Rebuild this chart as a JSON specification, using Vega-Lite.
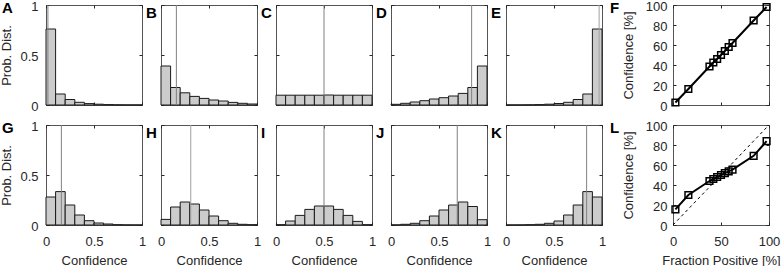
{
 "$schema": "https://vega.github.io/schema/vega-lite/v6.json",
 "autosize": {"type": "none"},
 "padding": {"left": 46, "top": 5, "right": 735, "bottom": 261},
 "background": "white",
 "datasets": {
  "hist": [
   {"panel":"A","b0":0,"b1":0.1,"p":0.76},{"panel":"A","b0":0.1,"b1":0.2,"p":0.11},{"panel":"A","b0":0.2,"b1":0.3,"p":0.055},{"panel":"A","b0":0.3,"b1":0.4,"p":0.027},{"panel":"A","b0":0.4,"b1":0.5,"p":0.014},{"panel":"A","b0":0.5,"b1":0.6,"p":0.008},{"panel":"A","b0":0.6,"b1":0.7,"p":0.004},{"panel":"A","b0":0.7,"b1":0.8,"p":0.002},{"panel":"A","b0":0.8,"b1":0.9,"p":0.001},{"panel":"A","b0":0.9,"b1":1,"p":0.001},
   {"panel":"B","b0":0,"b1":0.1,"p":0.39},{"panel":"B","b0":0.1,"b1":0.2,"p":0.175},{"panel":"B","b0":0.2,"b1":0.3,"p":0.122},{"panel":"B","b0":0.3,"b1":0.4,"p":0.086},{"panel":"B","b0":0.4,"b1":0.5,"p":0.066},{"panel":"B","b0":0.5,"b1":0.6,"p":0.05},{"panel":"B","b0":0.6,"b1":0.7,"p":0.04},{"panel":"B","b0":0.7,"b1":0.8,"p":0.026},{"panel":"B","b0":0.8,"b1":0.9,"p":0.017},{"panel":"B","b0":0.9,"b1":1,"p":0.01},
   {"panel":"C","b0":0,"b1":0.1,"p":0.098},{"panel":"C","b0":0.1,"b1":0.2,"p":0.098},{"panel":"C","b0":0.2,"b1":0.3,"p":0.098},{"panel":"C","b0":0.3,"b1":0.4,"p":0.098},{"panel":"C","b0":0.4,"b1":0.5,"p":0.098},{"panel":"C","b0":0.5,"b1":0.6,"p":0.1},{"panel":"C","b0":0.6,"b1":0.7,"p":0.098},{"panel":"C","b0":0.7,"b1":0.8,"p":0.098},{"panel":"C","b0":0.8,"b1":0.9,"p":0.098},{"panel":"C","b0":0.9,"b1":1,"p":0.098},
   {"panel":"D","b0":0,"b1":0.1,"p":0.007},{"panel":"D","b0":0.1,"b1":0.2,"p":0.017},{"panel":"D","b0":0.2,"b1":0.3,"p":0.03},{"panel":"D","b0":0.3,"b1":0.4,"p":0.043},{"panel":"D","b0":0.4,"b1":0.5,"p":0.06},{"panel":"D","b0":0.5,"b1":0.6,"p":0.073},{"panel":"D","b0":0.6,"b1":0.7,"p":0.09},{"panel":"D","b0":0.7,"b1":0.8,"p":0.116},{"panel":"D","b0":0.8,"b1":0.9,"p":0.175},{"panel":"D","b0":0.9,"b1":1,"p":0.39},
   {"panel":"E","b0":0,"b1":0.1,"p":0.001},{"panel":"E","b0":0.1,"b1":0.2,"p":0.001},{"panel":"E","b0":0.2,"b1":0.3,"p":0.002},{"panel":"E","b0":0.3,"b1":0.4,"p":0.004},{"panel":"E","b0":0.4,"b1":0.5,"p":0.008},{"panel":"E","b0":0.5,"b1":0.6,"p":0.015},{"panel":"E","b0":0.6,"b1":0.7,"p":0.027},{"panel":"E","b0":0.7,"b1":0.8,"p":0.055},{"panel":"E","b0":0.8,"b1":0.9,"p":0.11},{"panel":"E","b0":0.9,"b1":1,"p":0.76},
   {"panel":"G","b0":0,"b1":0.1,"p":0.28},{"panel":"G","b0":0.1,"b1":0.2,"p":0.334},{"panel":"G","b0":0.2,"b1":0.3,"p":0.2},{"panel":"G","b0":0.3,"b1":0.4,"p":0.1},{"panel":"G","b0":0.4,"b1":0.5,"p":0.043},{"panel":"G","b0":0.5,"b1":0.6,"p":0.02},{"panel":"G","b0":0.6,"b1":0.7,"p":0.01},{"panel":"G","b0":0.7,"b1":0.8,"p":0.003},{"panel":"G","b0":0.8,"b1":0.9,"p":0.001},{"panel":"G","b0":0.9,"b1":1,"p":0.0005},
   {"panel":"H","b0":0,"b1":0.1,"p":0.056},{"panel":"H","b0":0.1,"b1":0.2,"p":0.18},{"panel":"H","b0":0.2,"b1":0.3,"p":0.23},{"panel":"H","b0":0.3,"b1":0.4,"p":0.21},{"panel":"H","b0":0.4,"b1":0.5,"p":0.15},{"panel":"H","b0":0.5,"b1":0.6,"p":0.09},{"panel":"H","b0":0.6,"b1":0.7,"p":0.043},{"panel":"H","b0":0.7,"b1":0.8,"p":0.017},{"panel":"H","b0":0.8,"b1":0.9,"p":0.007},{"panel":"H","b0":0.9,"b1":1,"p":0.003},
   {"panel":"I","b0":0,"b1":0.1,"p":0.003},{"panel":"I","b0":0.1,"b1":0.2,"p":0.04},{"panel":"I","b0":0.2,"b1":0.3,"p":0.096},{"panel":"I","b0":0.3,"b1":0.4,"p":0.156},{"panel":"I","b0":0.4,"b1":0.5,"p":0.19},{"panel":"I","b0":0.5,"b1":0.6,"p":0.19},{"panel":"I","b0":0.6,"b1":0.7,"p":0.156},{"panel":"I","b0":0.7,"b1":0.8,"p":0.096},{"panel":"I","b0":0.8,"b1":0.9,"p":0.036},{"panel":"I","b0":0.9,"b1":1,"p":0.003},
   {"panel":"J","b0":0,"b1":0.1,"p":0.001},{"panel":"J","b0":0.1,"b1":0.2,"p":0.007},{"panel":"J","b0":0.2,"b1":0.3,"p":0.017},{"panel":"J","b0":0.3,"b1":0.4,"p":0.043},{"panel":"J","b0":0.4,"b1":0.5,"p":0.09},{"panel":"J","b0":0.5,"b1":0.6,"p":0.15},{"panel":"J","b0":0.6,"b1":0.7,"p":0.2},{"panel":"J","b0":0.7,"b1":0.8,"p":0.23},{"panel":"J","b0":0.8,"b1":0.9,"p":0.185},{"panel":"J","b0":0.9,"b1":1,"p":0.053},
   {"panel":"K","b0":0,"b1":0.1,"p":0.0005},{"panel":"K","b0":0.1,"b1":0.2,"p":0.001},{"panel":"K","b0":0.2,"b1":0.3,"p":0.003},{"panel":"K","b0":0.3,"b1":0.4,"p":0.007},{"panel":"K","b0":0.4,"b1":0.5,"p":0.017},{"panel":"K","b0":0.5,"b1":0.6,"p":0.04},{"panel":"K","b0":0.6,"b1":0.7,"p":0.1},{"panel":"K","b0":0.7,"b1":0.8,"p":0.2},{"panel":"K","b0":0.8,"b1":0.9,"p":0.334},{"panel":"K","b0":0.9,"b1":1,"p":0.28}
  ],
  "means": [
   {"panel":"A","mean":0.02},{"panel":"B","mean":0.16},{"panel":"C","mean":0.5},{"panel":"D","mean":0.84},{"panel":"E","mean":0.97},
   {"panel":"G","mean":0.16},{"panel":"H","mean":0.31},{"panel":"I","mean":0.5},{"panel":"J","mean":0.69},{"panel":"K","mean":0.84}
  ],
  "calib": [
   {"panel":"F","frac":2.5,"conf":2.5},{"panel":"F","frac":16,"conf":16},{"panel":"F","frac":38,"conf":38.5},{"panel":"F","frac":42,"conf":42.5},{"panel":"F","frac":46,"conf":46},{"panel":"F","frac":50,"conf":50},{"panel":"F","frac":54,"conf":54},{"panel":"F","frac":58,"conf":58},{"panel":"F","frac":62,"conf":62},{"panel":"F","frac":84,"conf":84.5},{"panel":"F","frac":97.5,"conf":98},
   {"panel":"L","frac":2.5,"conf":15.6},{"panel":"L","frac":16,"conf":30},{"panel":"L","frac":38,"conf":44},{"panel":"L","frac":42,"conf":46},{"panel":"L","frac":46,"conf":48},{"panel":"L","frac":50,"conf":50},{"panel":"L","frac":54,"conf":51.8},{"panel":"L","frac":58,"conf":53.6},{"panel":"L","frac":62,"conf":55.3},{"panel":"L","frac":84,"conf":69.2},{"panel":"L","frac":97.5,"conf":83.8}
  ],
  "diag": [{"frac":0,"conf":0},{"frac":100,"conf":100}],
  "dummy": [{}]
 },
 "columns": 7,
 "spacing": {"row": 20, "column": 19},
 "bounds": "flush",
 "align": "each",
 "concat": [
  {"width":96,"height":100,"title":{"text":"A","dx":-44},"resolve":{"axis":{"x":"independent","y":"independent"}},
   "layer":[
    {"data":{"name":"hist"},"transform":[{"filter":"datum.panel === 'A'"}],"mark":{"type":"bar","fill":"#cccccc","stroke":"#1a1a1a","strokeWidth":1},
     "encoding":{"x":{"field":"b0","type":"quantitative","scale":{"domain":[0,1],"nice":false},"axis":{"values":[0,0.5,1],"labels":false,"title":null}},"x2":{"field":"b1"},
      "y":{"field":"p","type":"quantitative","scale":{"domain":[0,1],"nice":false},"axis":{"values":[0,0.5,1],"format":"~g","title":"Prob. Dist."}},"y2":{"datum":0}}},
    {"data":{"name":"means"},"transform":[{"filter":"datum.panel === 'A'"}],"mark":{"type":"rule","color":"#808080","strokeWidth":1},"encoding":{"x":{"field":"mean","type":"quantitative","axis":null}}},
    {"data":{"name":"dummy"},"mark":{"type":"point","opacity":0},"encoding":{"x":{"datum":0,"type":"quantitative","axis":{"orient":"top","values":[0,0.5,1],"labels":false,"title":null}},"y":{"datum":0,"type":"quantitative","axis":{"orient":"right","values":[0,0.5,1],"labels":false,"title":null}}}}
   ]},
  {"width":96,"height":100,"title":{"text":"B","dx":-15},"resolve":{"axis":{"x":"independent","y":"independent"}},
   "layer":[
    {"data":{"name":"hist"},"transform":[{"filter":"datum.panel === 'B'"}],"mark":{"type":"bar","fill":"#cccccc","stroke":"#1a1a1a","strokeWidth":1},
     "encoding":{"x":{"field":"b0","type":"quantitative","scale":{"domain":[0,1],"nice":false},"axis":{"values":[0,0.5,1],"labels":false,"title":null}},"x2":{"field":"b1"},
      "y":{"field":"p","type":"quantitative","scale":{"domain":[0,1],"nice":false},"axis":{"values":[0,0.5,1],"labels":false,"title":null}},"y2":{"datum":0}}},
    {"data":{"name":"means"},"transform":[{"filter":"datum.panel === 'B'"}],"mark":{"type":"rule","color":"#808080","strokeWidth":1},"encoding":{"x":{"field":"mean","type":"quantitative","axis":null}}},
    {"data":{"name":"dummy"},"mark":{"type":"point","opacity":0},"encoding":{"x":{"datum":0,"type":"quantitative","axis":{"orient":"top","values":[0,0.5,1],"labels":false,"title":null}},"y":{"datum":0,"type":"quantitative","axis":{"orient":"right","values":[0,0.5,1],"labels":false,"title":null}}}}
   ]},
  {"width":96,"height":100,"title":{"text":"C","dx":-15},"resolve":{"axis":{"x":"independent","y":"independent"}},
   "layer":[
    {"data":{"name":"hist"},"transform":[{"filter":"datum.panel === 'C'"}],"mark":{"type":"bar","fill":"#cccccc","stroke":"#1a1a1a","strokeWidth":1},
     "encoding":{"x":{"field":"b0","type":"quantitative","scale":{"domain":[0,1],"nice":false},"axis":{"values":[0,0.5,1],"labels":false,"title":null}},"x2":{"field":"b1"},
      "y":{"field":"p","type":"quantitative","scale":{"domain":[0,1],"nice":false},"axis":{"values":[0,0.5,1],"labels":false,"title":null}},"y2":{"datum":0}}},
    {"data":{"name":"means"},"transform":[{"filter":"datum.panel === 'C'"}],"mark":{"type":"rule","color":"#808080","strokeWidth":1},"encoding":{"x":{"field":"mean","type":"quantitative","axis":null}}},
    {"data":{"name":"dummy"},"mark":{"type":"point","opacity":0},"encoding":{"x":{"datum":0,"type":"quantitative","axis":{"orient":"top","values":[0,0.5,1],"labels":false,"title":null}},"y":{"datum":0,"type":"quantitative","axis":{"orient":"right","values":[0,0.5,1],"labels":false,"title":null}}}}
   ]},
  {"width":96,"height":100,"title":{"text":"D","dx":-15},"resolve":{"axis":{"x":"independent","y":"independent"}},
   "layer":[
    {"data":{"name":"hist"},"transform":[{"filter":"datum.panel === 'D'"}],"mark":{"type":"bar","fill":"#cccccc","stroke":"#1a1a1a","strokeWidth":1},
     "encoding":{"x":{"field":"b0","type":"quantitative","scale":{"domain":[0,1],"nice":false},"axis":{"values":[0,0.5,1],"labels":false,"title":null}},"x2":{"field":"b1"},
      "y":{"field":"p","type":"quantitative","scale":{"domain":[0,1],"nice":false},"axis":{"values":[0,0.5,1],"labels":false,"title":null}},"y2":{"datum":0}}},
    {"data":{"name":"means"},"transform":[{"filter":"datum.panel === 'D'"}],"mark":{"type":"rule","color":"#808080","strokeWidth":1},"encoding":{"x":{"field":"mean","type":"quantitative","axis":null}}},
    {"data":{"name":"dummy"},"mark":{"type":"point","opacity":0},"encoding":{"x":{"datum":0,"type":"quantitative","axis":{"orient":"top","values":[0,0.5,1],"labels":false,"title":null}},"y":{"datum":0,"type":"quantitative","axis":{"orient":"right","values":[0,0.5,1],"labels":false,"title":null}}}}
   ]},
  {"width":96,"height":100,"title":{"text":"E","dx":-15},"resolve":{"axis":{"x":"independent","y":"independent"}},
   "layer":[
    {"data":{"name":"hist"},"transform":[{"filter":"datum.panel === 'E'"}],"mark":{"type":"bar","fill":"#cccccc","stroke":"#1a1a1a","strokeWidth":1},
     "encoding":{"x":{"field":"b0","type":"quantitative","scale":{"domain":[0,1],"nice":false},"axis":{"values":[0,0.5,1],"labels":false,"title":null}},"x2":{"field":"b1"},
      "y":{"field":"p","type":"quantitative","scale":{"domain":[0,1],"nice":false},"axis":{"values":[0,0.5,1],"labels":false,"title":null}},"y2":{"datum":0}}},
    {"data":{"name":"means"},"transform":[{"filter":"datum.panel === 'E'"}],"mark":{"type":"rule","color":"#a0a0a0","strokeWidth":1},"encoding":{"x":{"field":"mean","type":"quantitative","axis":null}}},
    {"data":{"name":"dummy"},"mark":{"type":"point","opacity":0},"encoding":{"x":{"datum":0,"type":"quantitative","axis":{"orient":"top","values":[0,0.5,1],"labels":false,"title":null}},"y":{"datum":0,"type":"quantitative","axis":{"orient":"right","values":[0,0.5,1],"labels":false,"title":null}}}}
   ]},
  {"width":33,"height":100,"data":{"name":"dummy"},"mark":{"type":"point","opacity":0},"encoding":{},"view":{"stroke":null}},
  {"width":96,"height":100,"title":{"text":"F","dx":-63},"resolve":{"axis":{"x":"independent","y":"independent"}},
   "layer":[
    {"data":{"name":"calib"},"transform":[{"filter":"datum.panel === 'F'"}],
     "mark":{"type":"line","color":"black","strokeWidth":2,"point":{"shape":"square","filled":false,"size":45,"color":"black","strokeWidth":1.5}},
     "encoding":{"x":{"field":"frac","type":"quantitative","scale":{"domain":[0,100],"nice":false},"axis":{"values":[0,50,100],"labels":false,"title":null}},
      "y":{"field":"conf","type":"quantitative","scale":{"domain":[0,100],"nice":false},"axis":{"values":[0,20,40,60,80,100],"format":"d","title":"Confidence [%]","labelPadding":9,"titlePadding":10}}}},
    {"data":{"name":"dummy"},"mark":{"type":"point","opacity":0},"encoding":{"x":{"datum":0,"type":"quantitative","axis":{"orient":"top","values":[0,50,100],"labels":false,"title":null}},"y":{"datum":0,"type":"quantitative","axis":{"orient":"right","values":[0,20,40,60,80,100],"labels":false,"title":null}}}}
   ]},
  {"width":96,"height":100,"title":{"text":"G","dx":-44},"resolve":{"axis":{"x":"independent","y":"independent"}},
   "layer":[
    {"data":{"name":"hist"},"transform":[{"filter":"datum.panel === 'G'"}],"mark":{"type":"bar","fill":"#cccccc","stroke":"#1a1a1a","strokeWidth":1},
     "encoding":{"x":{"field":"b0","type":"quantitative","scale":{"domain":[0,1],"nice":false},"axis":{"values":[0,0.5,1],"format":"~g","title":"Confidence"}},"x2":{"field":"b1"},
      "y":{"field":"p","type":"quantitative","scale":{"domain":[0,1],"nice":false},"axis":{"values":[0,0.5,1],"format":"~g","title":"Prob. Dist."}},"y2":{"datum":0}}},
    {"data":{"name":"means"},"transform":[{"filter":"datum.panel === 'G'"}],"mark":{"type":"rule","color":"#808080","strokeWidth":1},"encoding":{"x":{"field":"mean","type":"quantitative","axis":null}}},
    {"data":{"name":"dummy"},"mark":{"type":"point","opacity":0},"encoding":{"x":{"datum":0,"type":"quantitative","axis":{"orient":"top","values":[0,0.5,1],"labels":false,"title":null}},"y":{"datum":0,"type":"quantitative","axis":{"orient":"right","values":[0,0.5,1],"labels":false,"title":null}}}}
   ]},
  {"width":96,"height":100,"title":{"text":"H","dx":-15},"resolve":{"axis":{"x":"independent","y":"independent"}},
   "layer":[
    {"data":{"name":"hist"},"transform":[{"filter":"datum.panel === 'H'"}],"mark":{"type":"bar","fill":"#cccccc","stroke":"#1a1a1a","strokeWidth":1},
     "encoding":{"x":{"field":"b0","type":"quantitative","scale":{"domain":[0,1],"nice":false},"axis":{"values":[0,0.5,1],"format":"~g","title":"Confidence"}},"x2":{"field":"b1"},
      "y":{"field":"p","type":"quantitative","scale":{"domain":[0,1],"nice":false},"axis":{"values":[0,0.5,1],"labels":false,"title":null}},"y2":{"datum":0}}},
    {"data":{"name":"means"},"transform":[{"filter":"datum.panel === 'H'"}],"mark":{"type":"rule","color":"#a0a0a0","strokeWidth":1},"encoding":{"x":{"field":"mean","type":"quantitative","axis":null}}},
    {"data":{"name":"dummy"},"mark":{"type":"point","opacity":0},"encoding":{"x":{"datum":0,"type":"quantitative","axis":{"orient":"top","values":[0,0.5,1],"labels":false,"title":null}},"y":{"datum":0,"type":"quantitative","axis":{"orient":"right","values":[0,0.5,1],"labels":false,"title":null}}}}
   ]},
  {"width":96,"height":100,"title":{"text":"I","dx":-15},"resolve":{"axis":{"x":"independent","y":"independent"}},
   "layer":[
    {"data":{"name":"hist"},"transform":[{"filter":"datum.panel === 'I'"}],"mark":{"type":"bar","fill":"#cccccc","stroke":"#1a1a1a","strokeWidth":1},
     "encoding":{"x":{"field":"b0","type":"quantitative","scale":{"domain":[0,1],"nice":false},"axis":{"values":[0,0.5,1],"format":"~g","title":"Confidence"}},"x2":{"field":"b1"},
      "y":{"field":"p","type":"quantitative","scale":{"domain":[0,1],"nice":false},"axis":{"values":[0,0.5,1],"labels":false,"title":null}},"y2":{"datum":0}}},
    {"data":{"name":"means"},"transform":[{"filter":"datum.panel === 'I'"}],"mark":{"type":"rule","color":"#808080","strokeWidth":1},"encoding":{"x":{"field":"mean","type":"quantitative","axis":null}}},
    {"data":{"name":"dummy"},"mark":{"type":"point","opacity":0},"encoding":{"x":{"datum":0,"type":"quantitative","axis":{"orient":"top","values":[0,0.5,1],"labels":false,"title":null}},"y":{"datum":0,"type":"quantitative","axis":{"orient":"right","values":[0,0.5,1],"labels":false,"title":null}}}}
   ]},
  {"width":96,"height":100,"title":{"text":"J","dx":-15},"resolve":{"axis":{"x":"independent","y":"independent"}},
   "layer":[
    {"data":{"name":"hist"},"transform":[{"filter":"datum.panel === 'J'"}],"mark":{"type":"bar","fill":"#cccccc","stroke":"#1a1a1a","strokeWidth":1},
     "encoding":{"x":{"field":"b0","type":"quantitative","scale":{"domain":[0,1],"nice":false},"axis":{"values":[0,0.5,1],"format":"~g","title":"Confidence"}},"x2":{"field":"b1"},
      "y":{"field":"p","type":"quantitative","scale":{"domain":[0,1],"nice":false},"axis":{"values":[0,0.5,1],"labels":false,"title":null}},"y2":{"datum":0}}},
    {"data":{"name":"means"},"transform":[{"filter":"datum.panel === 'J'"}],"mark":{"type":"rule","color":"#808080","strokeWidth":1},"encoding":{"x":{"field":"mean","type":"quantitative","axis":null}}},
    {"data":{"name":"dummy"},"mark":{"type":"point","opacity":0},"encoding":{"x":{"datum":0,"type":"quantitative","axis":{"orient":"top","values":[0,0.5,1],"labels":false,"title":null}},"y":{"datum":0,"type":"quantitative","axis":{"orient":"right","values":[0,0.5,1],"labels":false,"title":null}}}}
   ]},
  {"width":96,"height":100,"title":{"text":"K","dx":-15},"resolve":{"axis":{"x":"independent","y":"independent"}},
   "layer":[
    {"data":{"name":"hist"},"transform":[{"filter":"datum.panel === 'K'"}],"mark":{"type":"bar","fill":"#cccccc","stroke":"#1a1a1a","strokeWidth":1},
     "encoding":{"x":{"field":"b0","type":"quantitative","scale":{"domain":[0,1],"nice":false},"axis":{"values":[0,0.5,1],"format":"~g","title":"Confidence"}},"x2":{"field":"b1"},
      "y":{"field":"p","type":"quantitative","scale":{"domain":[0,1],"nice":false},"axis":{"values":[0,0.5,1],"labels":false,"title":null}},"y2":{"datum":0}}},
    {"data":{"name":"means"},"transform":[{"filter":"datum.panel === 'K'"}],"mark":{"type":"rule","color":"#808080","strokeWidth":1},"encoding":{"x":{"field":"mean","type":"quantitative","axis":null}}},
    {"data":{"name":"dummy"},"mark":{"type":"point","opacity":0},"encoding":{"x":{"datum":0,"type":"quantitative","axis":{"orient":"top","values":[0,0.5,1],"labels":false,"title":null}},"y":{"datum":0,"type":"quantitative","axis":{"orient":"right","values":[0,0.5,1],"labels":false,"title":null}}}}
   ]},
  {"width":33,"height":100,"data":{"name":"dummy"},"mark":{"type":"point","opacity":0},"encoding":{},"view":{"stroke":null}},
  {"width":96,"height":100,"title":{"text":"L","dx":-63},"resolve":{"axis":{"x":"independent","y":"independent"}},
   "layer":[
    {"data":{"name":"diag"},"mark":{"type":"line","color":"black","strokeWidth":1,"strokeDash":[3,3]},
     "encoding":{"x":{"field":"frac","type":"quantitative","scale":{"domain":[0,100],"nice":false},"axis":{"values":[0,50,100],"format":"d","title":"Fraction Positive [%]"}},
      "y":{"field":"conf","type":"quantitative","scale":{"domain":[0,100],"nice":false},"axis":{"values":[0,20,40,60,80,100],"format":"d","title":"Confidence [%]","labelPadding":9,"titlePadding":10}}}},
    {"data":{"name":"calib"},"transform":[{"filter":"datum.panel === 'L'"}],
     "mark":{"type":"line","color":"black","strokeWidth":2,"point":{"shape":"square","filled":false,"size":45,"color":"black","strokeWidth":1.5}},
     "encoding":{"x":{"field":"frac","type":"quantitative","axis":null},"y":{"field":"conf","type":"quantitative","axis":null}}},
    {"data":{"name":"dummy"},"mark":{"type":"point","opacity":0},"encoding":{"x":{"datum":0,"type":"quantitative","axis":{"orient":"top","values":[0,50,100],"labels":false,"title":null}},"y":{"datum":0,"type":"quantitative","axis":{"orient":"right","values":[0,20,40,60,80,100],"labels":false,"title":null}}}}
   ]}
 ],
 "config": {
  "view": {"stroke": "#555555", "strokeWidth": 1},
  "axis": {"grid": false, "domain": false, "ticks": true, "tickSize": -3, "tickColor": "#262626", "labelFlush": false, "labelOverlap": false, "labelPadding": 13,
   "labelFont": "Liberation Sans", "labelFontSize": 13, "labelColor": "#262626",
   "titleFont": "Liberation Sans", "titleFontSize": 13, "titleFontWeight": "normal", "titleColor": "#262626", "titlePadding": 6},
  "axisY": {"labelPadding": 11, "titlePadding": 6},
  "axisLeft": {"labelOffset": 1},
  "title": {"anchor": "start", "frame": "group", "baseline": "top", "offset": 0, "dy": 20, "font": "Liberation Sans", "fontSize": 15, "fontWeight": "bold", "color": "black"}
 }
}
